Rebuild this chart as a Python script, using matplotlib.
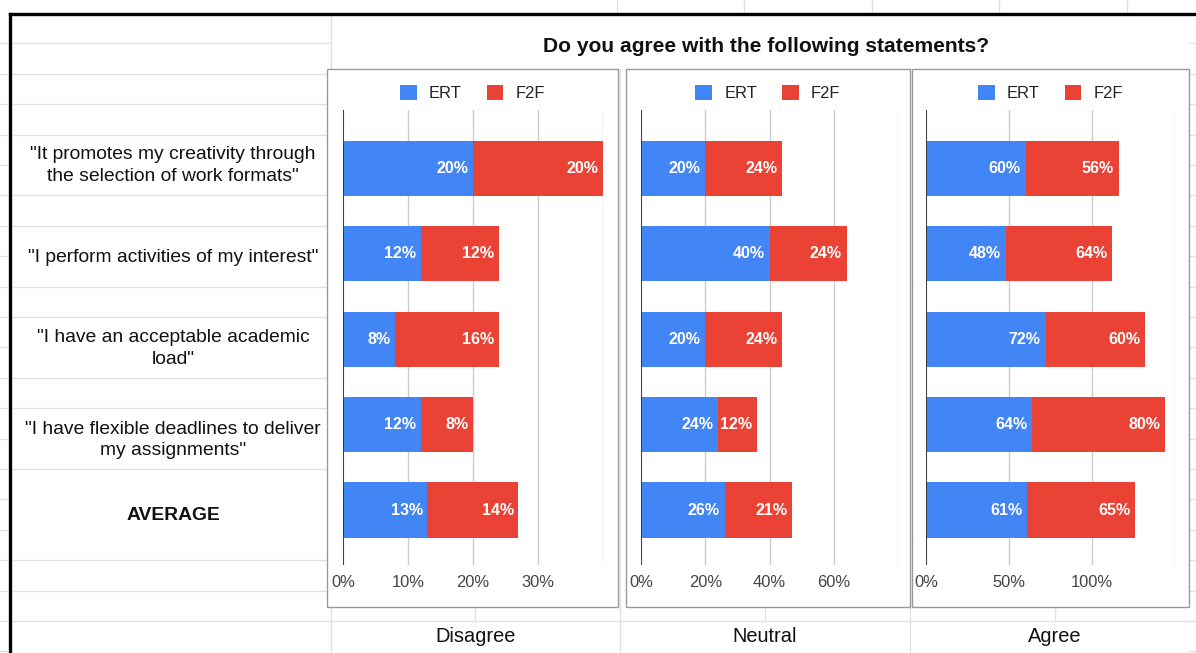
import matplotlib
matplotlib.use("Agg")
import matplotlib.pyplot as plt
from matplotlib.lines import Line2D
from matplotlib.patches import Rectangle, Patch

plt.rcParams['font.family'] = ['Liberation Sans', 'DejaVu Sans']

# survey answers, percent of students
statements = ['"It promotes my creativity through\nthe selection of work formats"',
              '"I perform activities of my interest"',
              '"I have an acceptable academic\nload"',
              '"I have flexible deadlines to deliver\nmy assignments"',
              'AVERAGE']
answers = ['Disagree', 'Neutral', 'Agree']
ert_disagree = [20, 12, 8, 12, 13]
f2f_disagree = [20, 12, 16, 8, 14]
ert_neutral = [20, 40, 20, 24, 26]
f2f_neutral = [24, 24, 24, 12, 21]
ert_agree = [60, 48, 72, 64, 61]
f2f_agree = [56, 64, 60, 80, 65]
axis_max = [40, 80, 150]
axis_step = [10, 20, 50]

BLUE = '#4285F4'
RED = '#EA4335'
GRID = '#e1e1e1'

W, H = 1196, 653
fig = plt.figure(figsize=(W / 100, H / 100), dpi=100)
fig.patch.set_facecolor('white')


def fx(x):
    return x / W


def fy(y):
    return 1 - y / H


def hline(y, x0, x1, color=GRID, lw=1.0, z=-3):
    fig.add_artist(Line2D([fx(x0), fx(x1)], [fy(y), fy(y)], color=color, lw=lw,
                          transform=fig.transFigure, zorder=z))


def vline(x, y0, y1, color=GRID, lw=1.0, z=-3):
    fig.add_artist(Line2D([fx(x), fx(x)], [fy(y0), fy(y1)], color=color, lw=lw,
                          transform=fig.transFigure, zorder=z))


# spreadsheet cells behind the charts
row_y = [13 + 30.4 * k for k in range(1, 22)]
merged_rows = {5, 8, 11, 14, 16, 17, 21}
for k, y in enumerate(row_y, start=1):
    hline(y, 0, 7)
    hline(y, 1189, W)
    if k not in merged_rows:
        hline(y, 10, 331)
hline(621, 331, W)
vline(331, 14, H)
vline(620, 69, H)
vline(910, 69, H)
for x in [475, 765, 1055]:
    vline(x, 607, 621)
for x in [617, 744, 872, 999, 1127]:
    vline(x, 0, 12)

# thick frame of the selected range
hline(13.5, 10, W, color='black', lw=2.4, z=-1)
vline(10, 13.5, H, color='black', lw=2.4, z=-1)

fig.text(fx(766), fy(46), 'Do you agree with the following statements?',
         ha='center', va='center', fontsize=15.1, fontweight='bold', color='#111111')

cell_centers = [165.5, 257.5, 348.5, 440, 515.5]
for text, yc in zip(statements, cell_centers):
    bold = 'bold' if text == 'AVERAGE' else 'normal'
    fig.text(fx(173), fy(yc), text, ha='center', va='center', fontsize=13.9,
             fontweight=bold, color='#111111', linespacing=1.32)

for name, xc in zip(answers, [476, 765, 1055]):
    fig.text(fx(xc), fy(636), name, ha='center', va='center', fontsize=14.4, color='#111111')

panels = [(327, 618), (626, 910), (912, 1189)]
plot_x = [(343, 603), (641, 898), (926, 1175)]
series = [(ert_disagree, f2f_disagree), (ert_neutral, f2f_neutral), (ert_agree, f2f_agree)]

top, bottom = 110, 565
rows = list(range(len(statements)))

for (p0, p1), (a0, a1), (ert, f2f), xmax, step in zip(panels, plot_x, series, axis_max, axis_step):
    fig.add_artist(Rectangle((fx(p0), fy(607)), fx(p1 - p0), (607 - 69) / H,
                             transform=fig.transFigure, facecolor='white',
                             edgecolor='#9a9a9a', lw=1.0, zorder=-0.5))
    ax = fig.add_axes([fx(a0), fy(bottom), fx(a1 - a0), (bottom - top) / H])
    ax.set_facecolor('none')
    for s in ax.spines.values():
        s.set_visible(False)

    ax.barh(rows, ert, height=0.645, color=BLUE, zorder=3)
    ax.barh(rows, f2f, left=ert, height=0.645, color=RED, zorder=3)
    for i in rows:
        for start, val in [(0, ert[i]), (ert[i], f2f[i])]:
            ax.annotate(f'{val}%', xy=(start + val, i), xytext=(-3.5, 0),
                        textcoords='offset points', ha='right', va='center',
                        color='white', fontsize=11.5, fontweight='bold', zorder=4)

    ax.set_xlim(0, xmax)
    ax.set_ylim(4.644, -0.685)
    ticks = list(range(0, xmax + 1, step))
    ax.set_xticks(ticks)
    ax.set_xticklabels([f'{t}%' if t < xmax else '' for t in ticks])
    ax.set_yticks([])
    ax.tick_params(axis='x', length=0, pad=7.5, labelsize=11.9, labelcolor='#444444')
    ax.grid(axis='x', color='#cccccc', lw=1.0, zorder=0)
    ax.axvline(0, color='#333333', lw=1.3, zorder=5)

    handles = [Patch(facecolor=BLUE, label='ERT'), Patch(facecolor=RED, label='F2F')]
    leg_y = (fy(93) - fy(bottom)) / ((bottom - top) / H)
    leg_x = ((p0 + p1) / 2 - a0) / (a1 - a0)
    ax.legend(handles=handles, loc='center', bbox_to_anchor=(leg_x, leg_y), ncol=2,
              frameon=False, fontsize=11.9, handlelength=1.0, handleheight=1.0,
              handletextpad=0.75, columnspacing=1.5, labelcolor='#222222',
              borderaxespad=0, borderpad=0)

fig.savefig('out.png', dpi=100, facecolor='white')
